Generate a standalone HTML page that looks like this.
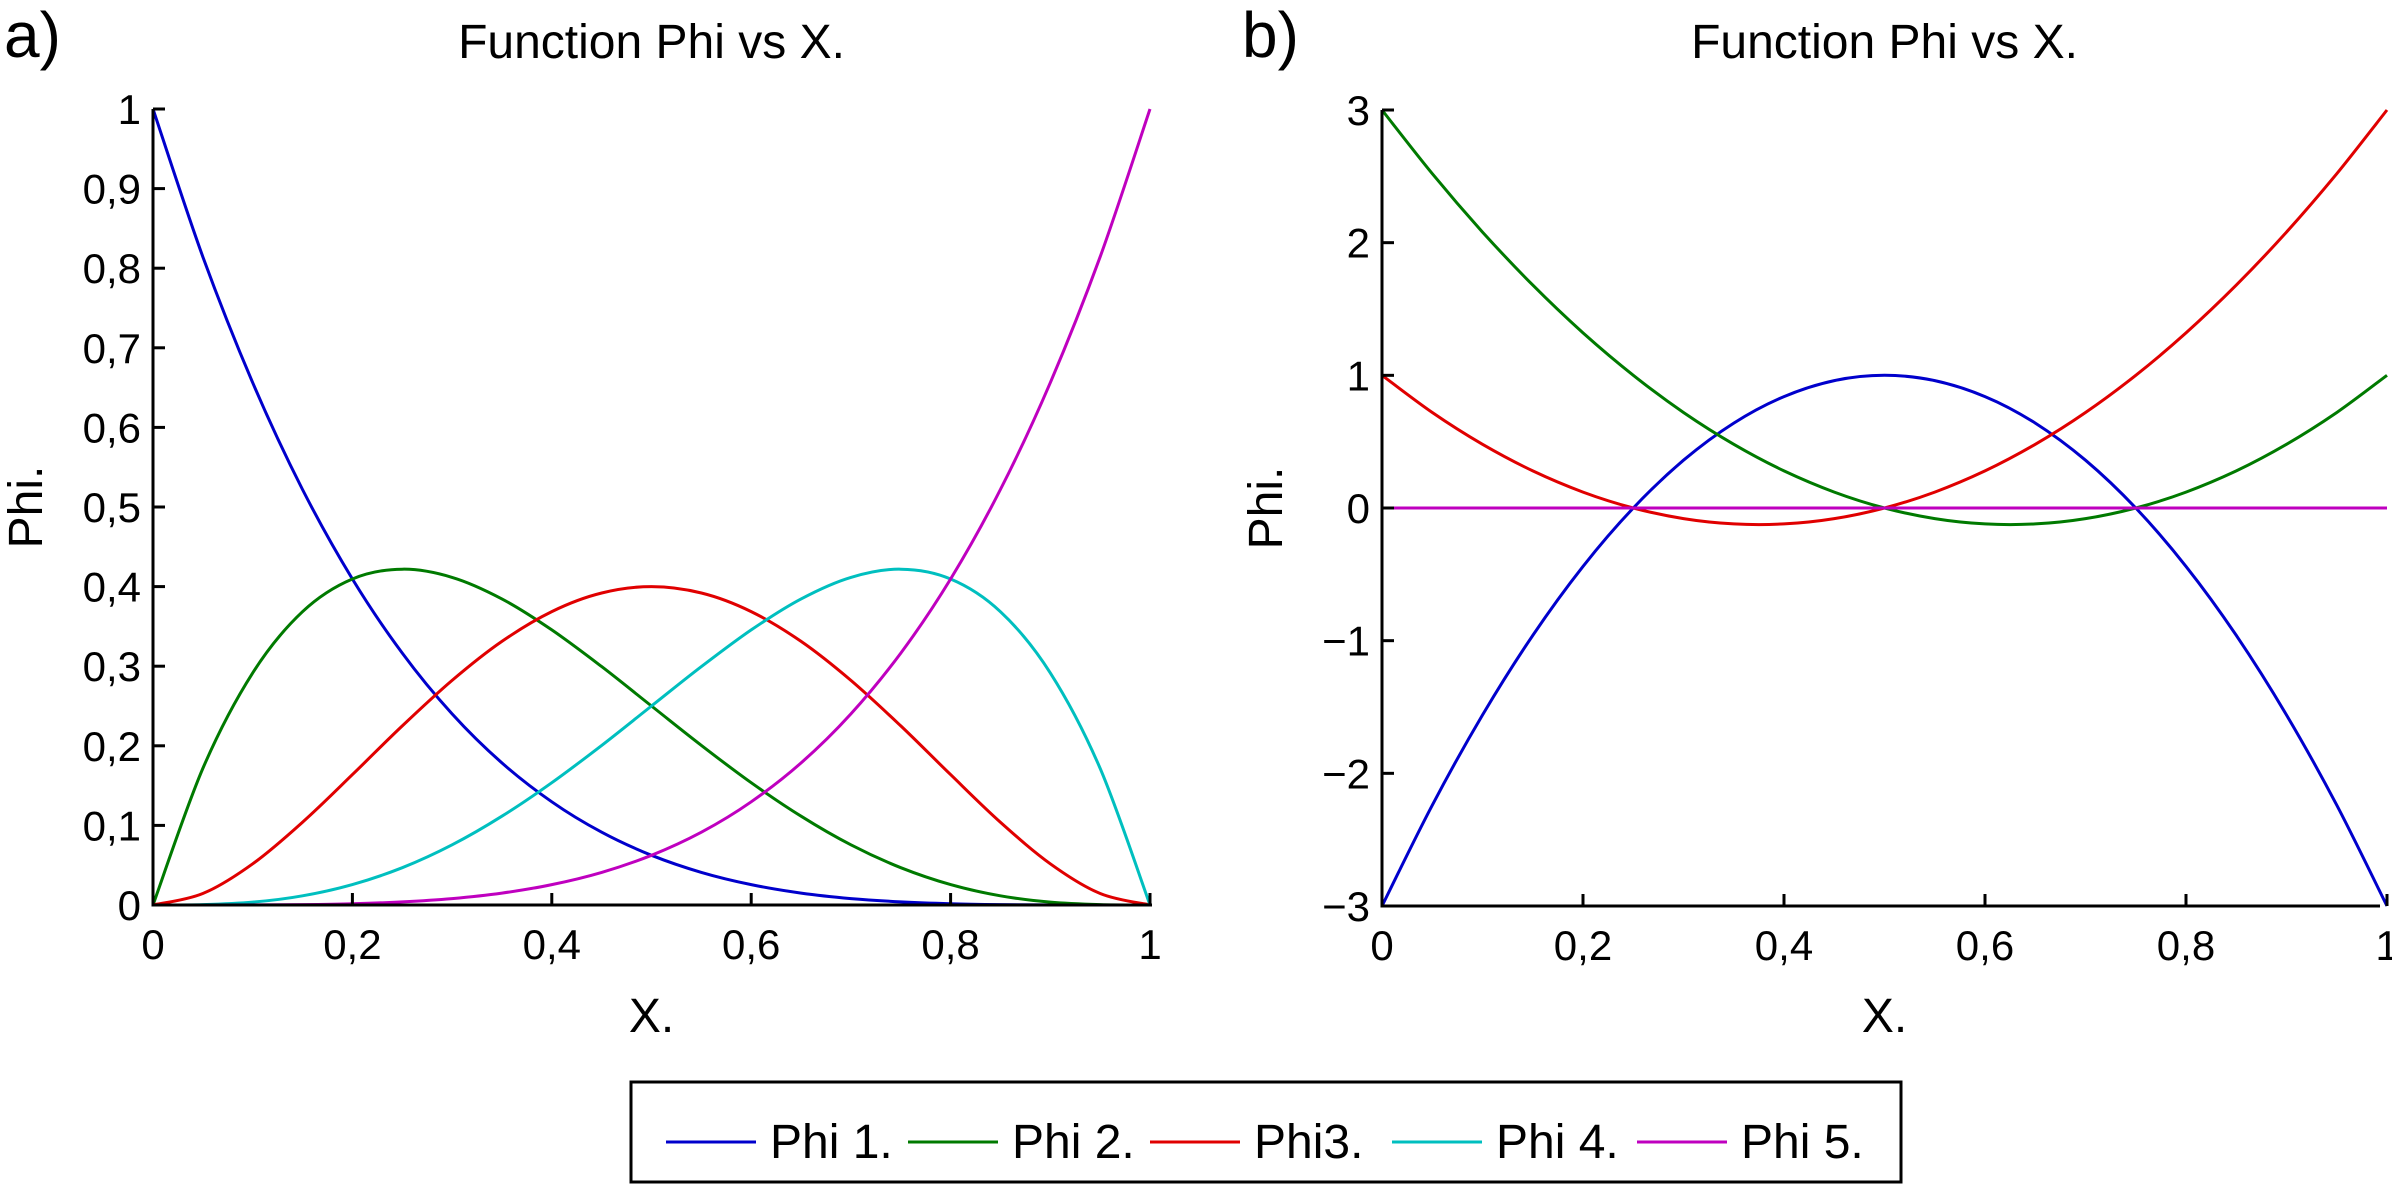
<!DOCTYPE html>
<html><head><meta charset="utf-8"><style>
html,body{margin:0;padding:0;background:#fff;}
svg{display:block;font-family:"Liberation Sans",sans-serif;}
</style></head><body>
<svg id="fig" width="2392" height="1185" viewBox="0 0 2392 1185">
<g id="pa"></g>
<g id="pb"></g>
<g id="legend"></g>
</svg>
<script>
const xs = [0,0.05,0.1,0.15,0.2,0.25,0.3,0.35,0.4,0.45,0.5,0.55,0.6,0.65,0.7,0.75,0.8,0.85,0.9,0.95,1];
const aPhi1 = [1,0.8145,0.6561,0.522,0.4096,0.3164,0.2401,0.1785,0.1296,0.0915,0.0625,0.041,0.0256,0.015,0.0081,0.0039,0.0016,0.0005,0.0001,0,0];
const aPhi2 = [0,0.1715,0.2916,0.3685,0.4096,0.4219,0.4116,0.3845,0.3456,0.2995,0.25,0.2005,0.1536,0.1115,0.0756,0.0469,0.0256,0.0115,0.0036,0.0005,0];
const aPhi3 = [0,0.0144,0.0518,0.104,0.1638,0.225,0.2822,0.3312,0.3686,0.392,0.4,0.392,0.3686,0.3312,0.2822,0.225,0.1638,0.104,0.0518,0.0144,0];
const aPhi4 = [0,0.0005,0.0036,0.0115,0.0256,0.0469,0.0756,0.1115,0.1536,0.2005,0.25,0.2995,0.3456,0.3845,0.4116,0.4219,0.4096,0.3685,0.2916,0.1715,0];
const aPhi5 = [0,0,0.0001,0.0005,0.0016,0.0039,0.0081,0.015,0.0256,0.041,0.0625,0.0915,0.1296,0.1785,0.2401,0.3164,0.4096,0.522,0.6561,0.8145,1];
const bPhi1 = [-3,-2.24,-1.56,-0.96,-0.44,0,0.36,0.64,0.84,0.96,1,0.96,0.84,0.64,0.36,0,-0.44,-0.96,-1.56,-2.24,-3];
const bPhi2 = [3,2.52,2.08,1.68,1.32,1,0.72,0.48,0.28,0.12,0,-0.08,-0.12,-0.12,-0.08,0,0.12,0.28,0.48,0.72,1];
const bPhi3 = [1,0.72,0.48,0.28,0.12,0,-0.08,-0.12,-0.12,-0.08,0,0.12,0.28,0.48,0.72,1,1.32,1.68,2.08,2.52,3];
const bPhi4 = [0,0,0,0,0,0,0,0,0,0,0,0,0,0,0,0,0,0,0,0,0];
const bPhi5 = [0,0,0,0,0,0,0,0,0,0,0,0,0,0,0,0,0,0,0,0,0];
const xTicks = [0,0.2,0.4,0.6,0.8,1];
const xTickLabels = ["0","0,2","0,4","0,6","0,8","1"];
const aYTicks = [0,0.1,0.2,0.3,0.4,0.5,0.6,0.7,0.8,0.9,1];
const aYTickLabels = ["0","0,1","0,2","0,3","0,4","0,5","0,6","0,7","0,8","0,9","1"];
const bYTicks = [-3,-2,-1,0,1,2,3];
const bYTickLabels = ["\u22123","\u22122","\u22121","0","1","2","3"];
const seriesNames = ["Phi 1.","Phi 2.","Phi3.","Phi 4.","Phi 5."];
const colors = ["#0000cc","#007a00","#e00000","#00bfbf","#bf00bf"];
const NS="http://www.w3.org/2000/svg";
function mk(tag,attrs,parent){const e=document.createElementNS(NS,tag);for(const k in attrs)e.setAttribute(k,attrs[k]);parent.appendChild(e);return e;}
function smooth(pts){let d="M"+pts[0][0].toFixed(1)+","+pts[0][1].toFixed(1);
 for(let i=0;i<pts.length-1;i++){const p0=pts[Math.max(0,i-1)],p1=pts[i],p2=pts[i+1],p3=pts[Math.min(pts.length-1,i+2)];
 const c1=[p1[0]+(p2[0]-p0[0])/6,p1[1]+(p2[1]-p0[1])/6],c2=[p2[0]-(p3[0]-p1[0])/6,p2[1]-(p3[1]-p1[1])/6];
 d+=" C"+c1[0].toFixed(1)+","+c1[1].toFixed(1)+" "+c2[0].toFixed(1)+","+c2[1].toFixed(1)+" "+p2[0].toFixed(1)+","+p2[1].toFixed(1);}
 return d;}
function panel(g,o){
 const sx=v=>o.x0+(o.x1-o.x0)*v, sy=v=>o.y0+(o.y1-o.y0)*(v-o.ymin)/(o.ymax-o.ymin);
 let t=mk('text',{x:o.lx,y:57,'font-size':64},g);t.textContent=o.letter;
 
 
 t=mk('text',{x:(o.x0+o.x1)/2,y:58,'font-size':48,'text-anchor':'middle'},g);t.textContent="Function Phi vs X.";
 
 
 o.series.forEach((s,i)=>{const p=mk('path',{d:smooth(xs.map((x,j)=>[sx(x),sy(s[j])])),fill:'none',stroke:colors[i],'stroke-width':3},g);
  
  });
 let a=mk('path',{d:`M${o.x0},${o.y0} V${o.y1} H${o.axEnd}`,fill:'none',stroke:'#000','stroke-width':3},g);
 
 
 xTicks.forEach((v,i)=>{const l=mk('line',{x1:sx(v),x2:sx(v),y1:o.y1,y2:o.y1-12,stroke:'#000','stroke-width':3},g);
  
  
  const tx=mk('text',{x:sx(v),y:o.y1+54,'font-size':42,'text-anchor':'middle'},g);tx.textContent=xTickLabels[i];
  
  });
 o.yt.forEach((v,i)=>{const l=mk('line',{x1:o.x0,x2:o.x0+12,y1:sy(v),y2:sy(v),stroke:'#000','stroke-width':3},g);
  
  
  const tx=mk('text',{x:o.x0-12,y:sy(v)+15,'font-size':42,'text-anchor':'end'},g);tx.textContent=o.ytl[i];
  
  });
 t=mk('text',{x:(o.x0+o.x1)/2,y:1032,'font-size':48,'text-anchor':'middle'},g);t.textContent="X.";
 
 
 t=mk('text',{x:0,y:0,'font-size':48,'text-anchor':'middle',transform:`translate(${o.ylx},${(o.y0+o.y1)/2}) rotate(-90)`},g);t.textContent="Phi.";
 
 
}
panel(document.getElementById('pa'),{x0:153,x1:1150,axEnd:1152,y0:109,y1:905,ymin:1,ymax:0,series:[aPhi1,aPhi2,aPhi3,aPhi4,aPhi5],yt:aYTicks,ytl:aYTickLabels,letter:"a)",lx:4,ylx:42});
panel(document.getElementById('pb'),{x0:1382,x1:2387,axEnd:2380,y0:110,y1:906,ymin:3,ymax:-3,series:[bPhi1,bPhi2,bPhi3,bPhi4,bPhi5],yt:bYTicks,ytl:bYTickLabels,letter:"b)",lx:1242,ylx:1282});
const lg=document.getElementById('legend');
let box=mk('rect',{x:631,y:1082,width:1270,height:100,fill:'#fff',stroke:'#000','stroke-width':3},lg);


const lineStarts=[666,908,1150,1392,1637];
seriesNames.forEach((n,i)=>{const x=lineStarts[i];
 const l=mk('line',{x1:x,x2:x+90,y1:1142,y2:1142,stroke:colors[i],'stroke-width':3},lg);
 
 
 const t=mk('text',{x:x+104,y:1158,'font-size':48},lg);t.textContent=n;
 
 });
</script>
</body></html>
